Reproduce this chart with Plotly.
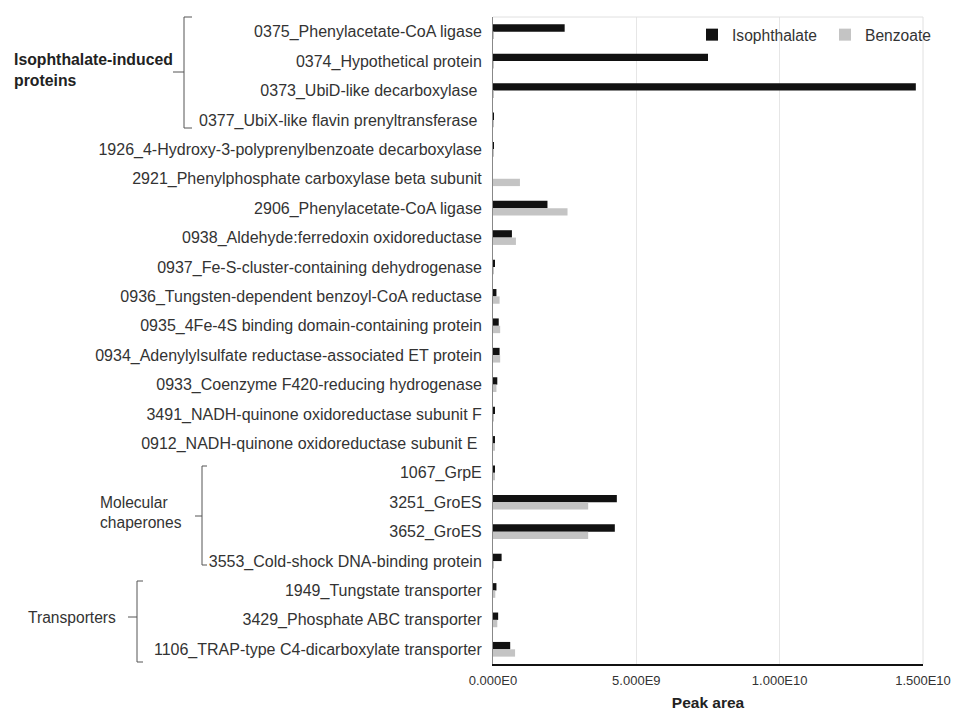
import plotly.graph_objects as go

categories = [
    "0375_Phenylacetate-CoA ligase",
    "0374_Hypothetical protein",
    "0373_UbiD-like decarboxylase ",
    "0377_UbiX-like flavin prenyltransferase ",
    "1926_4-Hydroxy-3-polyprenylbenzoate decarboxylase",
    "2921_Phenylphosphate carboxylase beta subunit",
    "2906_Phenylacetate-CoA ligase",
    "0938_Aldehyde:ferredoxin oxidoreductase",
    "0937_Fe-S-cluster-containing dehydrogenase",
    "0936_Tungsten-dependent benzoyl-CoA reductase",
    "0935_4Fe-4S binding domain-containing protein",
    "0934_Adenylylsulfate reductase-associated ET protein",
    "0933_Coenzyme F420-reducing hydrogenase",
    "3491_NADH-quinone oxidoreductase subunit F",
    "0912_NADH-quinone oxidoreductase subunit E ",
    "1067_GrpE",
    "3251_GroES",
    "3652_GroES",
    "3553_Cold-shock DNA-binding protein",
    "1949_Tungstate transporter",
    "3429_Phosphate ABC transporter",
    "1106_TRAP-type C4-dicarboxylate transporter",
]

isophthalate = [2.5e9, 7.5e9, 1.475e10, 3e7, 3e7, 0.0, 1.9e9, 0.66e9, 5e7, 1.2e8,
                2.0e8, 2.3e8, 1.5e8, 5e7, 7e7, 7e7, 4.32e9, 4.25e9, 3.0e8, 1.2e8,
                1.8e8, 6.0e8]
benzoate = [2e7, 1e7, 1e7, 1e7, 1e7, 9.4e8, 2.6e9, 8.0e8, 3e7, 2.3e8,
            2.5e8, 2.5e8, 1.2e8, 3e7, 5e7, 5e7, 3.32e9, 3.32e9, 2e7, 8e7,
            1.5e8, 7.7e8]

tick_vals = [0, 5e9, 1e10, 1.5e10]
tick_text = ["0.000E0", "5.000E9", "1.000E10", "1.500E10"]

OFF = 8                      # page offset of the figure div
W, H = 978 - OFF, 711 - OFF
# plot area in page pixels
PL, PR, PT, PB = 493, 923, 17, 664
L, R, T, B = PL - OFF, PR - OFF, PT - OFF, PB - OFF

FONT = "Liberation Sans, Arial, sans-serif"


def px(x):
    return (x - PL) / (PR - PL)


def py(y):
    return (PB - y) / (PB - PT)


fig = go.Figure()
fig.add_trace(go.Bar(y=categories, x=isophthalate, orientation="h", name="Isophthalate",
                     marker=dict(color="#111111", line=dict(width=0))))
fig.add_trace(go.Bar(y=categories, x=benzoate, orientation="h", name="Benzoate",
                     marker=dict(color="#c4c4c4", line=dict(width=0))))

shapes = []
line_style = dict(color="#555555", width=1)


def bracket(x, y0, y1, ymid, xl, serif=8):
    shapes.append(dict(type="path", xref="paper", yref="paper",
                       path=f"M {px(x+serif)},{py(y0)} L {px(x)},{py(y0)} L {px(x)},{py(y1)} L {px(x+serif)},{py(y1)}",
                       line=line_style))
    shapes.append(dict(type="line", xref="paper", yref="paper",
                       x0=px(xl), x1=px(x), y0=py(ymid), y1=py(ymid), line=line_style))


bracket(184, 17, 128, 72, 173)
bracket(202, 466, 565, 516, 195, serif=5)
bracket(137, 581, 662, 617, 128, serif=6)

# plot border (top and right light gray)
shapes.append(dict(type="line", xref="paper", yref="paper", x0=0, x1=1, y0=1, y1=1,
                   line=dict(color="#e0e0e0", width=1)))
shapes.append(dict(type="line", xref="paper", yref="paper", x0=1, x1=1, y0=0, y1=1,
                   line=dict(color="#e0e0e0", width=1)))

annotations = [
    dict(x=px(12), y=py(70), xref="paper", yref="paper", xanchor="left", yanchor="middle",
         text="<b>Isophthalate-induced<br>proteins</b>", align="left", showarrow=False,
         font=dict(size=15.8, color="#222222", family=FONT)),
    dict(x=px(184), y=py(513), xref="paper", yref="paper", xanchor="right", yanchor="middle",
         text="Molecular<br>chaperones", align="left", showarrow=False,
         font=dict(size=15.6, color="#333333", family=FONT)),
    dict(x=px(118), y=py(617), xref="paper", yref="paper", xanchor="right", yanchor="middle",
         text="Transporters", align="left", showarrow=False,
         font=dict(size=15.6, color="#333333", family=FONT)),
]

fig.update_layout(
    width=W, height=H,
    margin=dict(l=L, r=W - R, t=T, b=H - B, autoexpand=False),
    plot_bgcolor="white", paper_bgcolor="white",
    barmode="group", bargap=0.5, bargroupgap=0.0,
    font=dict(family=FONT, size=16, color="#333333"),
    showlegend=True,
    legend=dict(orientation="h", x=px(692), y=py(18), xanchor="left", yanchor="top",
                font=dict(size=15.6, color="#333333"), bgcolor="rgba(0,0,0,0)",
                entrywidth=88, itemwidth=30, traceorder="normal"),
    shapes=shapes,
    annotations=annotations,
    xaxis=dict(range=[0, 1.5e10], tickvals=tick_vals, ticktext=tick_text,
               showgrid=True, gridcolor="#e6e6e6", gridwidth=1,
               showline=True, linecolor="#111111", linewidth=2, zeroline=False,
               tickfont=dict(size=13, color="#333333"), ticks="", ticklabelstandoff=3,
               automargin=False,
               title=dict(text="<b>Peak area</b>", font=dict(size=15.5, color="#222222"), standoff=15)),
    yaxis=dict(autorange="reversed", showline=True, linecolor="#888888", linewidth=1,
               showgrid=False, ticks="", ticklabelstandoff=7, automargin=False,
               tickfont=dict(size=16, color="#333333")),
)

fig.write_html("out.html")
